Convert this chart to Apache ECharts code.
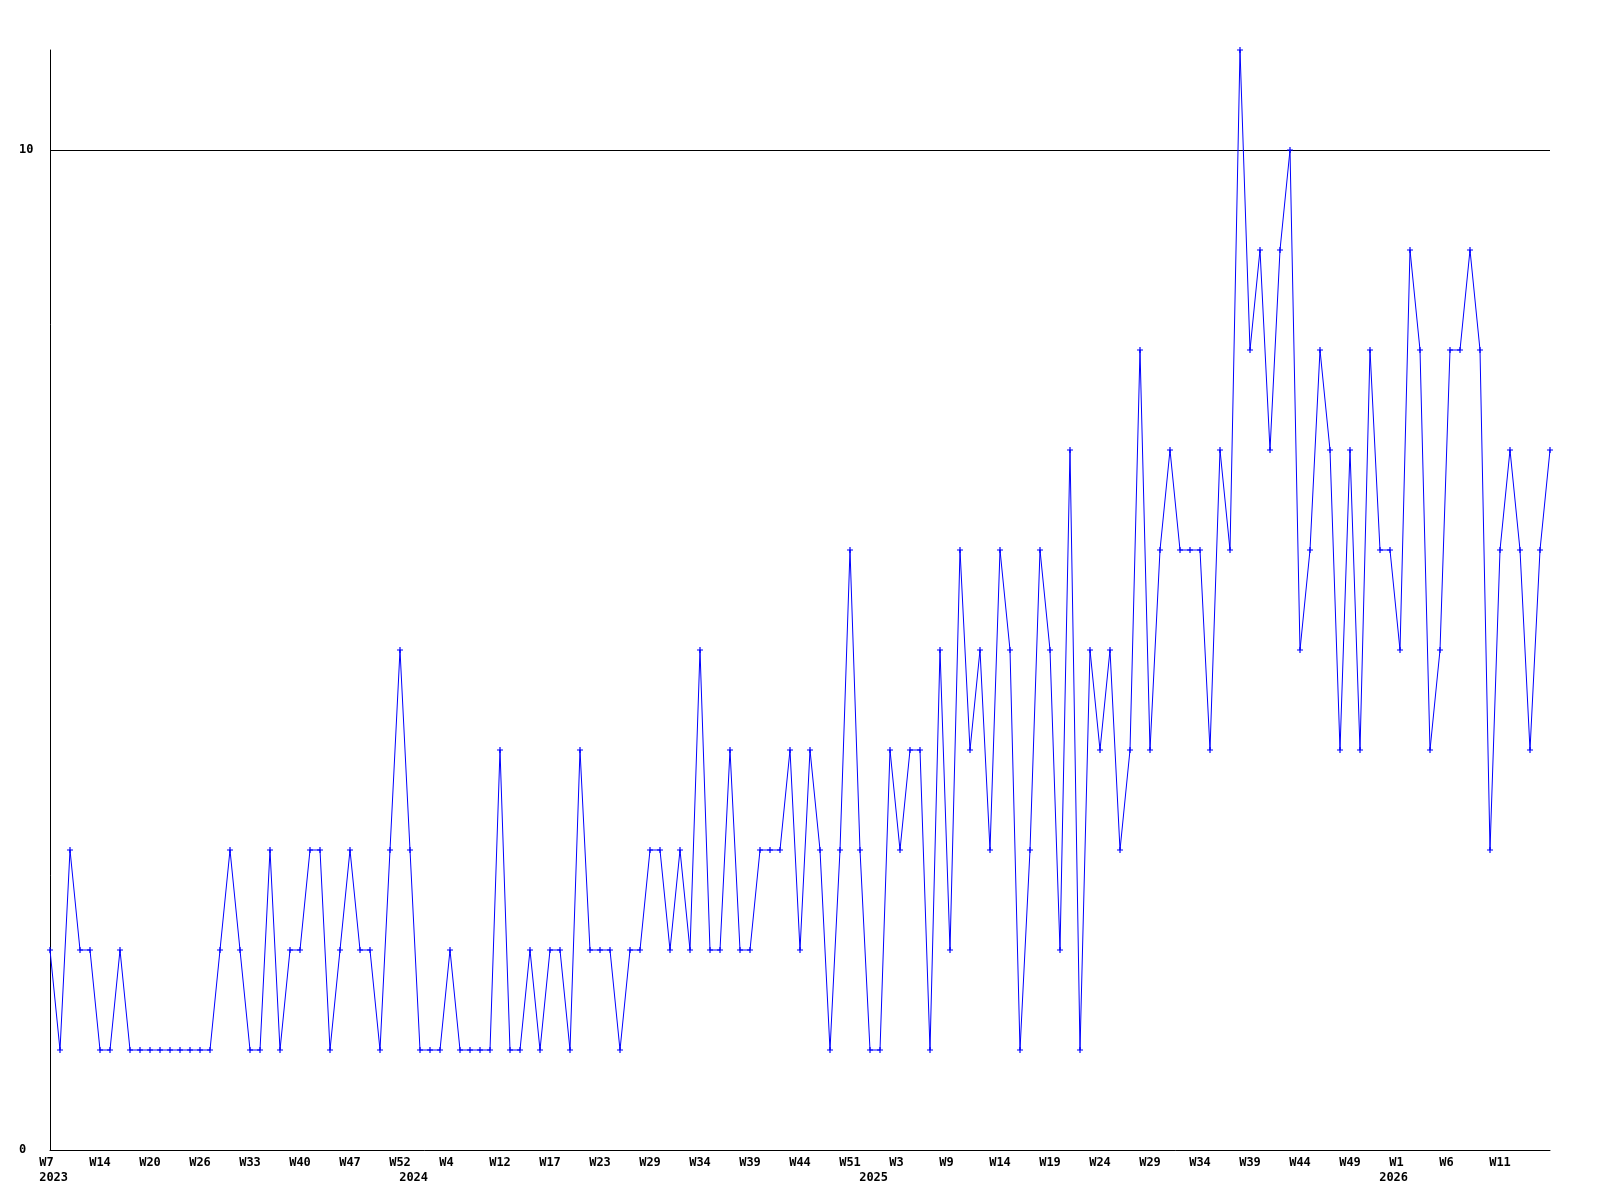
<!DOCTYPE html>
<html>
<head>
<meta charset="utf-8">
<script src="https://cdn.jsdelivr.net/npm/echarts@6/dist/echarts.min.js"></script>
<style>
  html, body { margin: 0; padding: 0; background: #ffffff; }
  #chart { width: 1600px; height: 1200px; }
</style>
</head>
<body>
<div id="chart"></div>
<script>
// Categories: year-week of each point
const categories = [
  '2023-W7','2023-W8','2023-W10','2023-W11','2023-W12','2023-W14','2023-W15','2023-W16','2023-W17','2023-W18',
  '2023-W20','2023-W21','2023-W22','2023-W23','2023-W24','2023-W26','2023-W27','2023-W28','2023-W30','2023-W31',
  '2023-W33','2023-W34','2023-W36','2023-W37','2023-W38','2023-W40','2023-W41','2023-W43','2023-W44','2023-W45',
  '2023-W47','2023-W48','2023-W49','2023-W50','2023-W51','2023-W52',
  '2024-W1','2024-W2','2024-W2','2024-W3','2024-W4','2024-W6','2024-W7','2024-W9','2024-W10','2024-W12',
  '2024-W13','2024-W14','2024-W15','2024-W16','2024-W17','2024-W18','2024-W20','2024-W21','2024-W22','2024-W23',
  '2024-W24','2024-W25','2024-W27','2024-W28','2024-W29','2024-W30','2024-W31','2024-W32','2024-W33','2024-W34',
  '2024-W35','2024-W36','2024-W37','2024-W38','2024-W39','2024-W40','2024-W41','2024-W42','2024-W43','2024-W44',
  '2024-W45','2024-W47','2024-W48','2024-W50','2024-W51','2024-W52',
  '2025-W1','2025-W2','2025-W2','2025-W3','2025-W4','2025-W6','2025-W7','2025-W8','2025-W9','2025-W10',
  '2025-W11','2025-W12','2025-W13','2025-W14','2025-W15','2025-W16','2025-W17','2025-W18','2025-W19','2025-W20',
  '2025-W21','2025-W22','2025-W23','2025-W24','2025-W25','2025-W26','2025-W27','2025-W28','2025-W29','2025-W30',
  '2025-W31','2025-W32','2025-W33','2025-W34','2025-W35','2025-W36','2025-W37','2025-W38','2025-W39','2025-W40',
  '2025-W41','2025-W42','2025-W43','2025-W44','2025-W45','2025-W46','2025-W47','2025-W48','2025-W49','2025-W50',
  '2025-W51','2025-W52',
  '2026-W1','2026-W1','2026-W2','2026-W3','2026-W4','2026-W5','2026-W6','2026-W7','2026-W8','2026-W9',
  '2026-W10','2026-W11','2026-W12','2026-W13','2026-W14','2026-W15','2026-W16'
];

// Series values
const values = [
  2,1,3,2,2,1,1,2,1,1,
  1,1,1,1,1,1,1,2,3,2,
  1,1,3,1,2,2,3,3,1,2,
  3,2,2,1,3,5,3,1,1,1,
  2,1,1,1,1,4,1,1,2,1,
  2,2,1,4,2,2,2,1,2,2,
  3,3,2,3,2,5,2,2,4,2,
  2,3,3,3,4,2,4,3,1,3,
  6,3,1,1,4,3,4,4,1,5,
  2,6,4,5,3,6,5,1,3,6,
  5,2,7,1,5,4,5,3,4,8,
  4,6,7,6,6,6,4,7,6,11,
  8,9,7,9,10,5,6,8,7,4,
  7,4,8,6,6,5,9,8,4,5,
  8,8,9,8,3,6,7,6,4,6,
  7
];

// Y tick labels
const yTickLabels = [0, 10];

const LABEL_EVERY = 5;
const yearOf = c => c.split('-')[0];
const weekOf = c => c.split('-')[1];
const showWeek = i => i % LABEL_EVERY === 0 && i !== categories.length - 1;
const showYear = i => i === 0 || yearOf(categories[i]) !== yearOf(categories[i - 1]);

const FONT = '"DejaVu Sans Mono", "Liberation Mono", monospace';

const chart = echarts.init(document.getElementById('chart'), null, { renderer: 'canvas' });
chart.setOption({
  animation: false,
  backgroundColor: '#ffffff',
  grid: { left: 50, right: 50, top: 50, bottom: 50, containLabel: false },
  xAxis: {
    type: 'category',
    data: categories,
    boundaryGap: false,
    axisLine: { show: true, lineStyle: { color: '#000', width: 1 } },
    axisTick: { show: false },
    splitLine: { show: false },
    axisLabel: {
      interval: (i) => showWeek(i) || showYear(i),
      margin: 5,
      align: 'center',
      color: '#000',
      fontFamily: FONT,
      fontWeight: 'bold',
      fontSize: 12,
      lineHeight: 15,
      formatter: (value, i) => {
        let w = showWeek(i) ? weekOf(value) : ' ';
        while (w.length < 3) w += ' ';
        if (showYear(i)) return w + '\n ' + yearOf(value);
        return w;
      }
    }
  },
  yAxis: {
    type: 'value',
    min: 0,
    max: 11,
    interval: 10,
    axisLine: { show: true, lineStyle: { color: '#000', width: 1 } },
    axisTick: { show: false },
    splitLine: { show: true, showMinLine: false, showMaxLine: false, lineStyle: { color: '#000', width: 1 } },
    axisLabel: {
      showMaxLabel: false,
      align: 'left',
      margin: 31,
      color: '#000',
      fontFamily: FONT,
      fontWeight: 'bold',
      fontSize: 12,
      formatter: v => (yTickLabels.indexOf(v) >= 0 ? String(v) : '')
    }
  },
  series: [{
    type: 'line',
    data: values,
    showSymbol: true,
    showAllSymbol: true,
    symbol: 'path://M2,0H3V2H5V3H3V5H2V3H0V2H2Z',
    symbolSize: 6,
    itemStyle: { color: '#0000ff' },
    lineStyle: { color: '#0000ff', width: 1 },
    emphasis: { disabled: true }
  }]
});
</script>
</body>
</html>
